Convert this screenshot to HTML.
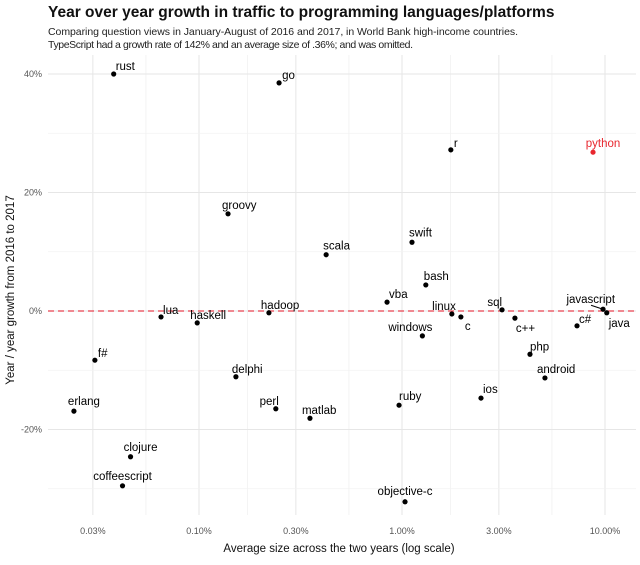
<!DOCTYPE html>
<html><head><meta charset="utf-8"><style>
body{margin:0;background:#fff;font-family:"Liberation Sans",sans-serif}
</style></head><body>
<svg id="chart" width="640" height="560" xmlns="http://www.w3.org/2000/svg" font-family="Liberation Sans, sans-serif">
<text x="48" y="17" font-size="15.5" font-weight="bold" fill="#111">Year over year growth in traffic to programming languages/platforms</text>
<text x="48" y="35" font-size="10.5" fill="#222" textLength="470">Comparing question views in January-August of 2016 and 2017, in World Bank high-income countries.</text>
<text x="48" y="48" font-size="10.5" fill="#222" textLength="365">TypeScript had a growth rate of 142% and an average size of .36%; and was omitted.</text>
<g id="grid"></g>
<g id="axes"></g>
<g id="marks"></g>
<text x="339" y="552" font-size="11.5" text-anchor="middle" fill="#111">Average size across the two years (log scale)</text>
<text transform="translate(14,290) rotate(-90)" font-size="11.5" text-anchor="middle" fill="#111">Year / year growth from 2016 to 2017</text>
</svg>
<script>
const names=["rust","go","r","python","groovy","swift","scala","bash","vba","sql","javascript","java","linux","c","c++","c#","lua","haskell","hadoop","windows","f#","php","delphi","android","ios","ruby","perl","matlab","erlang","clojure","coffeescript","objective-c"];
const sizes=[0.038,0.248,1.74,8.73,0.139,1.12,0.423,1.31,0.844,3.11,9.78,10.2,1.76,1.95,3.6,7.28,0.065,0.098,0.221,1.26,0.0307,4.27,0.152,5.06,2.45,0.967,0.239,0.352,0.0242,0.046,0.042,1.035];
const growth=[40,38.5,27.2,26.8,16.4,11.6,9.5,4.4,1.5,0.2,0.3,-0.3,-0.5,-1.0,-1.2,-2.5,-1.0,-2.0,-0.3,-4.2,-8.3,-7.3,-11.1,-11.3,-14.7,-15.9,-16.5,-18.1,-16.9,-24.6,-29.5,-32.2];
const xTicks=[0.03,0.1,0.3,1,3,10];
const xTickLabels=["0.03%","0.10%","0.30%","1.00%","3.00%","10.00%"];
const yTicks=[40,20,0,-20];
const yTickLabels=["40%","20%","0%","-20%"];
// label placement [anchor, dx, dy]
const labelPos={"java":["start",2,14],"c":["start",4,13],"c++":["start",1,14],"windows":["middle",-12,-5],"linux":["end",4,-4],"sql":["end",0,-4],"javascript":["end",12,-6],"objective-c":["middle",0,-7],"coffeescript":["middle",0,-6],"clojure":["middle",10,-6],"erlang":["middle",10,-6],"c#":["start",2,-3],"ruby":["start",0,-5],"perl":["end",3,-4],"matlab":["start",-8,-4],"ios":["start",2,-5],"android":["start",-8,-5],"php":["start",0,-4],"delphi":["start",-4,-4],"hadoop":["start",-8,-4],"groovy":["start",-6,-5],"scala":["start",-3,-5],"swift":["start",-3,-6],"bash":["start",-2,-5],"vba":["start",2,-4],"haskell":["start",-7,-4],"lua":["start",2,-3],"f#":["start",3,-3],"r":["start",3,-3],"python":["middle",10,-5],"go":["start",3,-4],"rust":["start",2,-4]};
const x=v=>199+203*(Math.log10(v)+1);
const y=v=>311-v*118.5/20;
const NS="http://www.w3.org/2000/svg";
function mk(tag,attrs,parent){const e=document.createElementNS(NS,tag);for(const k in attrs)e.setAttribute(k,attrs[k]);parent.appendChild(e);return e;}
const grid=document.getElementById('grid'),axes=document.getElementById('axes'),marks=document.getElementById('marks');
const L=48,R=636,T=55,B=515;
for(let i=0;i<xTicks.length;i++){
  const gx=x(xTicks[i]);
  const ln=mk('line',{x1:gx,x2:gx,y1:T,y2:B,stroke:'#e6e6e6','stroke-width':1},grid);
  
  
  if(i<xTicks.length-1){const mx=x(Math.sqrt(xTicks[i]*xTicks[i+1]));
    const m=mk('line',{x1:mx,x2:mx,y1:T,y2:B,stroke:'#f2f2f2','stroke-width':0.8},grid);
    
    }
  const t=mk('text',{x:gx,y:534,'font-size':9,'text-anchor':'middle',fill:'#555'},axes);t.textContent=xTickLabels[i];
  
  
}
for(let i=0;i<yTicks.length;i++){
  const gy=y(yTicks[i]);
  const ln=mk('line',{x1:L,x2:R,y1:gy,y2:gy,stroke:'#e6e6e6','stroke-width':1},grid);
  
  
  const mg=mk('line',{x1:L,x2:R,y1:y(yTicks[i]-10),y2:y(yTicks[i]-10),stroke:'#f2f2f2','stroke-width':0.8},grid);
  
  
  const t=mk('text',{x:42,y:gy+3,'font-size':9,'text-anchor':'end',fill:'#555'},axes);t.textContent=yTickLabels[i];
  
  
}
const zl=mk('line',{x1:L,x2:R,y1:y(0),y2:y(0),stroke:'#e8424f','stroke-width':1.3,'stroke-dasharray':'6,4'},marks);


for(let i=0;i<names.length;i++){
  const px=x(sizes[i]),py=y(growth[i]);
  const col=names[i]==='python'?'#e8262e':'#000';
  const c=mk('circle',{cx:px,cy:py,r:2.6,fill:col},marks);
  
  
  const p=labelPos[names[i]]||["start",2,-4];
  const t=mk('text',{x:px+p[1],y:py+p[2],'font-size':11.5,'text-anchor':p[0],fill:col},marks);
  t.textContent=names[i];
  
  
  if(names[i]==='javascript'){const s=mk('line',{x1:px-12,x2:px,y1:py-4,y2:py,stroke:'#000','stroke-width':1},marks);
    
    }
}
</script>
</body></html>
